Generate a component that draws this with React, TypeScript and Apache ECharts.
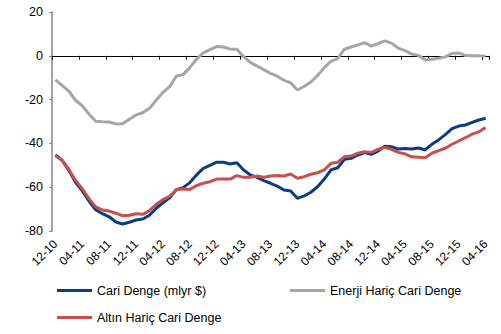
import React, { useEffect, useRef } from "react";
import * as echarts from "echarts";

const categories: string[] = [];
(() => {
  categories.push("12-10");
  for (let y = 11; y <= 16; y++) {
    for (let m = 1; m <= 12; m++) {
      if (y === 16 && m > 4) break;
      categories.push(`${m < 10 ? "0" + m : m}-${y}`);
    }
  }
})();

const cariDenge = [
  -45.3, -47.7, -52.3, -57.8, -61.7, -66.3, -70.3, -72.1, -73.5, -75.9, -76.8, -76.0, -75.0,
  -74.5, -72.8, -69.6, -67.1, -64.8, -61.1, -60.2, -57.9, -54.4, -51.4, -50.0, -48.6, -48.6,
  -49.4, -48.8, -52.1, -54.4, -55.5, -57.0, -58.2, -59.5, -61.3, -61.7, -65.1, -64.0, -62.3,
  -59.8, -56.3, -52.1, -51.1, -47.3, -46.8, -45.3, -44.2, -45.0, -43.5, -41.3, -41.5, -42.6,
  -42.3, -42.6, -42.1, -43.0, -40.4, -38.4, -36.0, -33.3, -32.1, -31.6, -30.4, -29.3, -28.5,
];

const enerjiHaric = [
  -11.0, -13.5, -16.1, -20.3, -22.8, -26.6, -29.9, -30.1, -30.2, -31.1, -31.0, -29.0, -27.0,
  -26.0, -24.0, -20.3, -16.7, -14.1, -9.2, -8.6, -5.4, -1.5, 1.3, 2.8, 4.2, 4.0, 3.1, 3.0,
  -0.4, -3.0, -4.7, -6.3, -8.0, -9.3, -11.2, -12.3, -15.6, -14.0, -12.0, -9.0, -5.4, -2.5,
  -1.3, 3.0, 4.0, 5.0, 6.0, 4.4, 5.6, 6.8, 5.8, 3.5, 2.4, 0.8, 0.2, -1.9, -1.6, -1.1, -0.5,
  1.1, 1.3, 0.1, 0.0, 0.0, -0.2,
];

const altinHaric = [
  -45.6, -47.6, -51.8, -56.9, -60.7, -65.2, -69.0, -70.4, -70.9, -71.9, -73.0, -72.8, -72.1,
  -72.4, -70.7, -67.8, -65.7, -64.2, -61.1, -60.8, -61.0, -59.3, -58.2, -57.5, -56.3, -56.3,
  -56.3, -54.7, -55.5, -55.5, -54.9, -55.5, -54.9, -54.7, -54.9, -54.0, -55.9, -55.2, -54.1,
  -53.4, -52.1, -49.1, -48.6, -46.1, -45.8, -44.5, -43.8, -44.1, -42.7, -41.8, -42.7, -44.1,
  -44.8, -46.1, -46.3, -46.5, -44.5, -43.3, -42.2, -40.4, -38.9, -37.4, -35.8, -34.7, -32.8,
];

const seriesNames = ["Cari Denge (mlyr $)", "Enerji Hariç Cari Denge", "Altın Hariç Cari Denge"];
const colors = ["#0b3c84", "#a6a6a6", "#c9504c"];

const FONT = "'Liberation Sans', Arial, sans-serif";

export default function App() {
  const ref = useRef<HTMLDivElement>(null);
  useEffect(() => {
    if (!ref.current) return;
    const chart = echarts.init(ref.current, undefined, { renderer: "svg" });
    const legendBase = {
      icon: "rect",
      itemWidth: 35,
      itemHeight: 3,
      itemGap: 5,
      padding: 0,
      textStyle: { fontFamily: FONT, fontSize: 12.5, color: "#000" },
      selectedMode: false,
    };
    chart.setOption({
      animation: false,
      color: colors,
      grid: { left: 52, right: 12, top: 12, bottom: 103, containLabel: false },
      legend: [
        { ...legendBase, data: [seriesNames[0]], left: 57, top: 284 },
        { ...legendBase, data: [seriesNames[1]], left: 290, top: 284 },
        { ...legendBase, data: [seriesNames[2]], left: 57, top: 311 },
      ],
      xAxis: [
        {
          type: "category",
          data: categories,
          boundaryGap: true,
          axisLine: { show: true, onZero: true, lineStyle: { color: "#000", width: 1 } },
          axisTick: { show: true, interval: 3, length: 4, lineStyle: { color: "#000" } },
          axisLabel: { show: false },
          splitLine: { show: false },
        },
        {
          type: "category",
          data: categories,
          position: "bottom",
          boundaryGap: true,
          axisLine: { show: false, onZero: false },
          axisTick: { show: false },
          axisLabel: {
            show: true,
            interval: 3,
            rotate: 45,
            margin: 11,
            fontFamily: FONT,
            fontSize: 12,
            color: "#000",
          },
          splitLine: { show: false },
        },
      ],
      yAxis: {
        type: "value",
        min: -80,
        max: 20,
        interval: 20,
        axisLine: { show: true, lineStyle: { color: "#868686", width: 1.5 } },
        axisTick: { show: true, length: 3, lineStyle: { color: "#868686" } },
        axisLabel: { fontFamily: FONT, fontSize: 12.5, color: "#000", margin: 9 },
        splitLine: { show: false },
      },
      series: [
        { name: seriesNames[0], type: "line", data: cariDenge, symbol: "none", lineStyle: { width: 3, color: colors[0] }, z: 3 },
        { name: seriesNames[1], type: "line", data: enerjiHaric, symbol: "none", lineStyle: { width: 3, color: colors[1] }, z: 2 },
        { name: seriesNames[2], type: "line", data: altinHaric, symbol: "none", lineStyle: { width: 3, color: colors[2] }, z: 4 },
      ],
    });
    return () => chart.dispose();
  }, []);
  return <div ref={ref} style={{ width: 501, height: 334, position: "absolute", left: 0, top: 0 }} />;
}
